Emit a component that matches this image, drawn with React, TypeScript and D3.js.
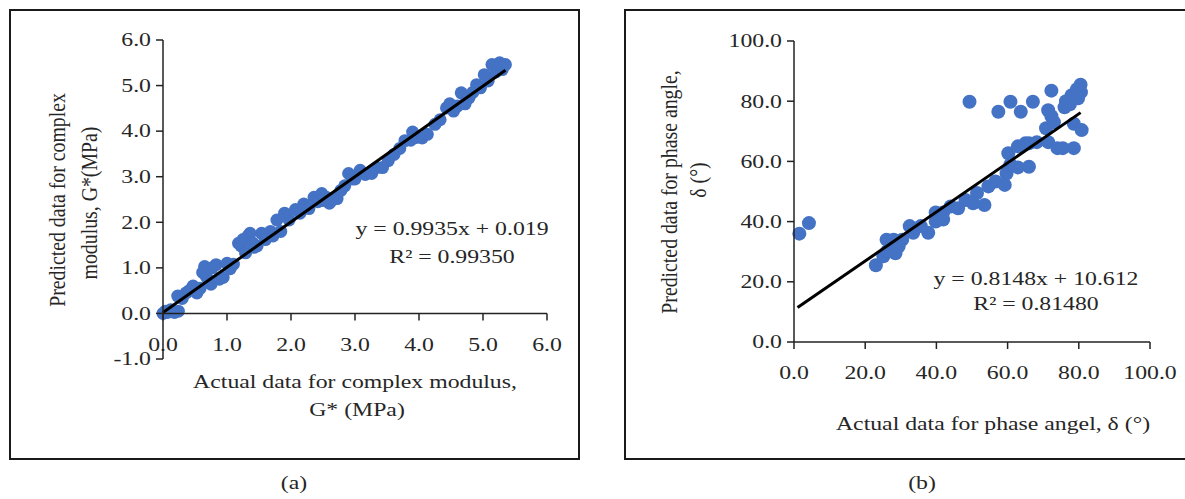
import * as d3 from 'd3';
import type { ReactNode } from 'react';

// Panel (a): complex modulus G* (MPa)
const actualG = [
  0, 0.04, 0.07, 0.12, 0.18, 0.24, 0.23, 0.3, 0.36, 0.41, 0.47, 0.53, 0.58,
  0.65, 0.68, 0.75, 0.77, 0.83, 0.88, 0.94, 1.0, 1.05, 1.1, 1.18, 1.22,
  1.29, 1.33, 1.36, 1.42, 1.47, 1.54, 1.6, 1.68, 1.72, 1.78, 1.84, 1.9,
  1.97, 2.07, 2.14, 2.2, 2.28, 2.36, 2.42, 2.48, 2.55, 2.6, 2.66, 2.72,
  2.78, 2.84, 2.9, 2.96, 3.08, 3.16, 3.26, 3.34, 3.43, 3.52, 3.61, 3.7,
  3.78, 3.87, 3.96, 4.05, 4.13, 4.25, 4.33, 4.43, 4.54, 4.6, 4.66, 4.72,
  4.78, 4.84, 4.9, 4.96, 5.02, 5.08, 5.14, 5.2, 5.26, 5.3, 5.35,
  1.25, 1.4, 2.5, 3.0, 3.9, 4.48, 0.62
];
const predictedG = [
  0, 0.05, 0.02, 0.08, 0.02, 0.05, 0.38, 0.33, 0.45, 0.5, 0.6, 0.45, 0.55,
  1.03, 0.8, 0.64, 1.0, 1.07, 0.75, 0.79, 1.1, 0.98, 1.08, 1.54, 1.48,
  1.33, 1.7, 1.76, 1.45, 1.48, 1.76, 1.62, 1.8, 1.7, 2.05, 1.8, 2.2,
  2.05, 2.28, 2.2, 2.4, 2.3, 2.55, 2.45, 2.63, 2.55, 2.42, 2.5, 2.52,
  2.7, 2.8, 3.07, 2.95, 3.14, 3.05, 3.07, 3.2, 3.2, 3.35, 3.49, 3.62,
  3.79, 3.8, 3.86, 3.85, 3.93, 4.15, 4.25, 4.51, 4.44, 4.55, 4.84, 4.6,
  4.73, 4.85, 5.02, 4.95, 5.24, 5.1, 5.46, 5.3, 5.5, 5.35, 5.46,
  1.62, 1.55, 2.48, 2.95, 3.98, 4.6, 0.9
];
const ticksA = [0, 1, 2, 3, 4, 5, 6];
const yTicksA = [-1, 0, 1, 2, 3, 4, 5, 6];
const fitA = { slope: 0.9935, intercept: 0.019, xStart: 0, xEnd: 5.35 };

// Panel (b): phase angle δ (°)
const actualD = [
  1.5, 4.2, 23, 25.1, 26.2, 26, 28, 28.5, 29.4, 30.4, 32.5, 33.5, 35.6,
  37.7, 39.8, 39.8, 41.9, 41.9, 44, 46.1, 48.2, 50.3, 51.4, 53.5, 54.6,
  56.6, 59.2, 59.7, 60.2, 60.8, 62.9, 62.9, 65, 66, 66, 68.2, 70.8, 71.4,
  71.4, 72.3, 74, 75.5, 78.6, 78.6, 80.8, 76.4, 78, 79.5, 80.6, 80.5,
  49.3, 57.4, 60.8, 63.7, 67.1, 72.3, 77.5, 79.8, 73, 76
];
const predictedD = [
  36, 39.5, 25.5, 28.5, 30.2, 34, 34, 29.5, 31.8, 34, 38.5, 36.3, 38.5,
  36.3, 40, 43, 40.7, 43, 45, 44.4, 47.2, 46.1, 49.5, 45.5, 51.7, 53.3,
  52.2, 56, 62.7, 59, 58, 65, 66, 58.2, 66, 66.4, 71, 66.4, 77, 75, 64.4,
  64.4, 64.4, 72.5, 70.4, 80, 82, 84, 83, 85.5,
  79.8, 76.5, 79.8, 76.5, 79.8, 83.5, 79, 81, 73, 78
];
const ticksB = [0, 20, 40, 60, 80, 100];
const fitB = { slope: 0.8148, intercept: 10.612, xStart: 1, xEnd: 80.5 };

const FONT = '"Liberation Serif", "Times New Roman", serif';
const FS = 19.8;
const STRETCH = 1.2; // source figure is stretched horizontally
const TEXT = '#262626';
const BLUE = '#4472C4';

function T({ x, y, anchor = 'middle', rotate = false, children }:
  { x: number; y: number; anchor?: 'start' | 'middle' | 'end'; rotate?: boolean; children: ReactNode }) {
  const tf = `translate(${x},${y}) scale(${STRETCH},1)${rotate ? ' rotate(-90)' : ''}`;
  return (
    <g transform={tf}>
      <text x={0} y={0} textAnchor={anchor} dominantBaseline="central"
        fontFamily={FONT} fontSize={FS} fill={TEXT}>
        {children}
      </text>
    </g>
  );
}

interface PanelProps {
  xs: number[];
  ys: number[];
  xScale: d3.ScaleLinear<number, number>;
  yScale: d3.ScaleLinear<number, number>;
  xTicks: number[];
  yTicks: number[];
  fit: { slope: number; intercept: number; xStart: number; xEnd: number };
  r: number;
}

function Panel({ xs, ys, xScale, yScale, xTicks, yTicks, fit, r }: PanelProps) {
  const [xa, xb] = xScale.range();
  const [ya, yb] = yScale.range();
  const ax = xScale(0);
  const ay = yScale(0);
  const line = d3.line<number>()
    .x(d => xScale(d))
    .y(d => yScale(fit.slope * d + fit.intercept));

  return (
    <g>
      {/* points */}
      {xs.map((x, i) => (
        <circle key={i} cx={xScale(x)} cy={yScale(ys[i])} r={r} fill={BLUE} />
      ))}

      {/* trend line */}
      <path d={line([fit.xStart, fit.xEnd]) || ''} fill="none" stroke="#000" strokeWidth={3} />

      {/* y axis */}
      <line x1={ax} x2={ax} y1={ya} y2={yb} stroke="#222" strokeWidth={1.5} />
      {yTicks.map((t, i) => (
        <g key={i}>
          <line x1={ax - 7} x2={ax} y1={yScale(t)} y2={yScale(t)} stroke="#222" strokeWidth={1.5} />
          <T x={ax - 12} y={yScale(t)} anchor="end">{t.toFixed(1)}</T>
        </g>
      ))}

      {/* x axis */}
      <line x1={xa} x2={xb} y1={ay} y2={ay} stroke="#222" strokeWidth={1.5} />
      {xTicks.map((t, i) => (
        <g key={i}>
          <line x1={xScale(t)} x2={xScale(t)} y1={ay} y2={ay + 7} stroke="#222" strokeWidth={1.5} />
          <T x={xScale(t)} y={ay + 31}>{t.toFixed(1)}</T>
        </g>
      ))}
    </g>
  );
}

export default function App() {
  const xA = d3.scaleLinear().domain([0, 6]).range([163, 547]);
  const yA = d3.scaleLinear().domain([-1, 6]).range([359, 40]);
  const xB = d3.scaleLinear().domain([0, 100]).range([794, 1150]);
  const yB = d3.scaleLinear().domain([0, 100]).range([342, 41]);

  return (
    <svg width={1185} height={499} style={{ position: 'absolute', left: 0, top: 0, background: '#fff' }}>
      <rect x={0} y={0} width={1185} height={499} fill="#fff" />

      {/* panel (a) */}
      <rect x={10} y={10} width={569} height={449} fill="none" stroke="#1a1a1a" strokeWidth={2} />
      <Panel xs={actualG} ys={predictedG} xScale={xA} yScale={yA}
        xTicks={ticksA} yTicks={yTicksA} fit={fitA} r={6.5} />
      <T x={452} y={229}>y = 0.9935x + 0.019</T>
      <T x={452} y={257}>R² = 0.99350</T>
      <T x={355} y={382}>Actual data for complex modulus,</T>
      <T x={357} y={410}>G* (MPa)</T>
      <T x={57} y={200} rotate>Predicted data for complex</T>
      <T x={89} y={203} rotate>modulus, G*(MPa)</T>
      <T x={294} y={483}>(a)</T>

      {/* panel (b) */}
      <rect x={625} y={10} width={561} height={449} fill="none" stroke="#1a1a1a" strokeWidth={2} />
      <Panel xs={actualD} ys={predictedD} xScale={xB} yScale={yB}
        xTicks={ticksB} yTicks={ticksB} fit={fitB} r={7} />
      <T x={1036} y={279}>y = 0.8148x + 10.612</T>
      <T x={1036} y={304}>R² = 0.81480</T>
      <T x={993} y={424}>Actual data for phase angel, δ (°)</T>
      <T x={669} y={192} rotate>Predicted data for phase angle,</T>
      <T x={698} y={180} rotate>δ (°)</T>
      <T x={922} y={483}>(b)</T>
    </svg>
  );
}
